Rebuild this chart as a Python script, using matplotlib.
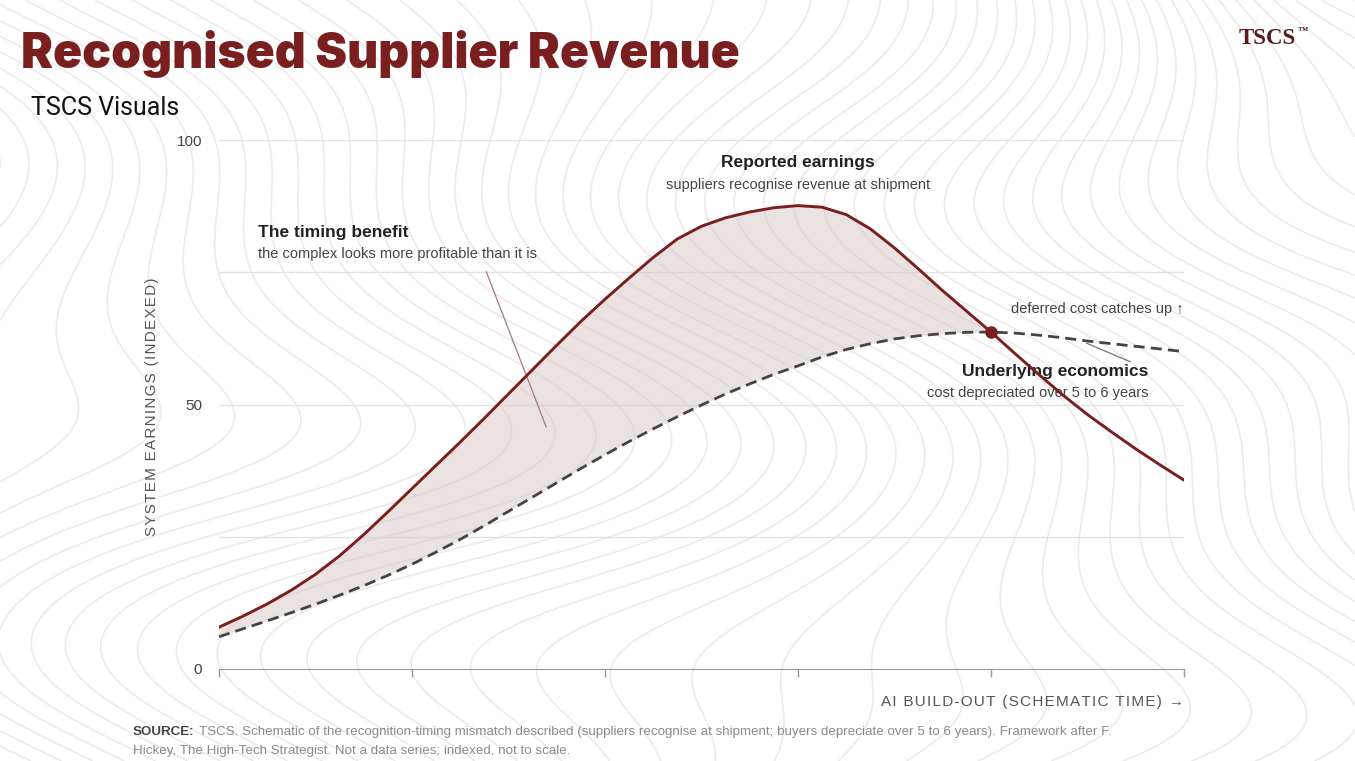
import numpy as np
import matplotlib
matplotlib.use("Agg")
import matplotlib.pyplot as plt

plt.rcParams['font.family'] = ['Liberation Sans', 'DejaVu Sans']

# schematic time (0-100) and indexed earnings
t = np.arange(0, 100.1, 2.5)
reported = [7.9, 10.0, 12.3, 14.9, 17.9, 21.4, 25.4, 29.7, 34.1, 38.5,
            42.9, 47.4, 52.0, 56.6, 61.2, 65.7, 69.9, 73.9, 77.8, 81.3,
            83.7, 85.3, 86.4, 87.2, 87.6, 87.3, 85.9, 83.2, 79.6, 75.6,
            71.5, 67.6, 63.7, 59.6, 55.6, 51.7, 48.1, 44.8, 41.6, 38.6, 35.7]
underlying = [6.1, 7.6, 9.1, 10.65, 12.25, 13.95, 15.75, 17.7, 19.8, 22.1,
              24.5, 27.1, 29.8, 32.5, 35.2, 37.9, 40.5, 43.0, 45.4, 47.7,
              49.9, 52.0, 53.9, 55.7, 57.3, 59.0, 60.4, 61.5, 62.4, 63.0,
              63.4, 63.65, 63.7, 63.5, 63.1, 62.6, 62.0, 61.5, 61.0, 60.5, 60.0]
cross_t = 80
cross_v = 63.7

yticks = [0, 25, 50, 75, 100]
ytick_labels = ['0', '', '50', '', '100']
xticks = [0, 20, 40, 60, 80, 100]

red = '#7a1f1f'
dark = '#222222'
mid = '#444444'


def spaced(s):
    # fake letter spacing with hair spaces
    return '\u200a'.join(s)


fig = plt.figure(figsize=(13.55, 7.61), dpi=100)

# topographic style background lines (decoration only)
bg = fig.add_axes([0, 0, 1, 1], zorder=0)
gx, gy = np.meshgrid(np.linspace(0, 1, 400), np.linspace(0, 1, 260))
field = (10 * gx + 1.1 * np.sin(7 * gy + 4 * gx) + 0.6 * np.sin(13 * gy - 2 * gx)
         + 7 * np.exp(-((gx - 1.0) ** 2 / 0.06 + (gy - 1.15) ** 2 / 0.12)))
bg.contour(gx, gy, field, levels=55, colors='#efe9ed', linewidths=1.2,
           negative_linestyles='solid')
bg.set_xlim(0, 1)
bg.set_ylim(0, 1)
bg.axis('off')

ax = fig.add_axes([0.1616, 0.1209, 0.7122, 0.6951], zorder=1)
ax.patch.set_alpha(0)

for g in yticks[1:]:
    ax.axhline(g, color='#e6e1e3', lw=1.0, zorder=1)

rep = np.array(reported)
und = np.array(underlying)
ax.fill_between(t, rep, und, where=rep >= und, interpolate=True,
                color='#dccdcd', alpha=0.6, lw=0, zorder=2)
ax.plot(t, underlying, color=mid, lw=2.0, ls=(0, (4, 2.2)), zorder=3)
ax.plot(t, reported, color=red, lw=2.1, zorder=4, solid_capstyle='round',
        solid_joinstyle='round')
ax.plot([cross_t], [cross_v], 'o', color=red, ms=8, zorder=5)

# leader lines
ax.plot([27.7, 33.9], [75.1, 45.8], color='#a57a7a', lw=0.9, zorder=3)
ax.plot([89.9, 94.4], [61.6, 58.1], color='#777777', lw=0.9, zorder=3)

ax.text(60, 95.8, 'Reported earnings', ha='center', va='center',
        fontsize=12.5, fontweight='bold', color=dark)
ax.text(60, 91.5, 'suppliers recognise revenue at shipment', ha='center',
        va='center', fontsize=10.5, color=mid)
ax.text(4.0, 82.6, 'The timing benefit', ha='left', va='center',
        fontsize=12.5, fontweight='bold', color=dark)
ax.text(4.0, 78.4, 'the complex looks more profitable than it is', ha='left',
        va='center', fontsize=10.5, color=mid)
ax.text(100, 68.1, 'deferred cost catches up \u2191', ha='right', va='center',
        fontsize=10.5, color=mid)
ax.text(96.3, 56.3, 'Underlying economics', ha='right', va='center',
        fontsize=12.5, fontweight='bold', color=dark)
ax.text(96.3, 52.2, 'cost depreciated over 5 to 6 years', ha='right',
        va='center', fontsize=10.5, color=mid)

ax.set_xlim(0, 100)
ax.set_ylim(0, 100)
ax.set_xticks(xticks)
ax.set_xticklabels([])
ax.set_yticks(yticks)
ax.set_yticklabels(ytick_labels)
ax.tick_params(axis='x', direction='out', length=6, color='#999999', width=1)
ax.tick_params(axis='y', length=0, pad=12, labelsize=11, labelcolor=mid)
for side in ['top', 'right', 'left']:
    ax.spines[side].set_visible(False)
ax.spines['bottom'].set_color('#999999')

# header
fig.text(21 / 1355, 1 - 68 / 761, 'Recognised Supplier Revenue', ha='left',
         va='baseline', fontsize=34.5, fontweight='black', family='Inter',
         color=red)
fig.text(31 / 1355, 1 - 115 / 761, 'TSCS Visuals', ha='left', va='baseline',
         fontsize=18, family='Roboto', color='#111111')
logo = fig.text(1239 / 1355, 1 - 44 / 761, 'TSCS', ha='left', va='baseline',
                fontsize=16.5, family='Liberation Serif', fontweight='bold',
                color='#5a1a1a')
renderer = fig.canvas.get_renderer()
lb = logo.get_window_extent(renderer)
fig.text(lb.x1 / fig.bbox.width + 0.001, 1 - 34 / 761, '\u2122', ha='left',
         va='baseline', fontsize=7.5, family='Liberation Serif',
         fontweight='bold', color='#5a1a1a')

# axis titles
fig.text(152 / 1355, 1 - 407 / 761, spaced('SYSTEM EARNINGS (INDEXED)'),
         rotation=90, ha='center', va='center', fontsize=11, color='#555555')
fig.text(1184 / 1355, 1 - 702 / 761, spaced('AI BUILD-OUT (SCHEMATIC TIME) \u2192'),
         ha='right', va='center', fontsize=11, color='#555555')

# source note
src = fig.text(133 / 1355, 1 - 732 / 761, 'SOURCE:', ha='left', va='center',
               fontsize=9.6, fontweight='bold', color='#444444')
bb = src.get_window_extent(renderer)
fig.text(bb.x1 / fig.bbox.width + 0.003, 1 - 732 / 761,
         'TSCS. Schematic of the recognition-timing mismatch described (suppliers '
         'recognise at shipment; buyers depreciate over 5 to 6 years). Framework after F.',
         ha='left', va='center', fontsize=9.6, color='#8a8a8a')
fig.text(133 / 1355, 1 - 751 / 761,
         'Hickey, The High-Tech Strategist. Not a data series; indexed, not to scale.',
         ha='left', va='center', fontsize=9.6, color='#8a8a8a')

fig.savefig('out.png', dpi=100)
